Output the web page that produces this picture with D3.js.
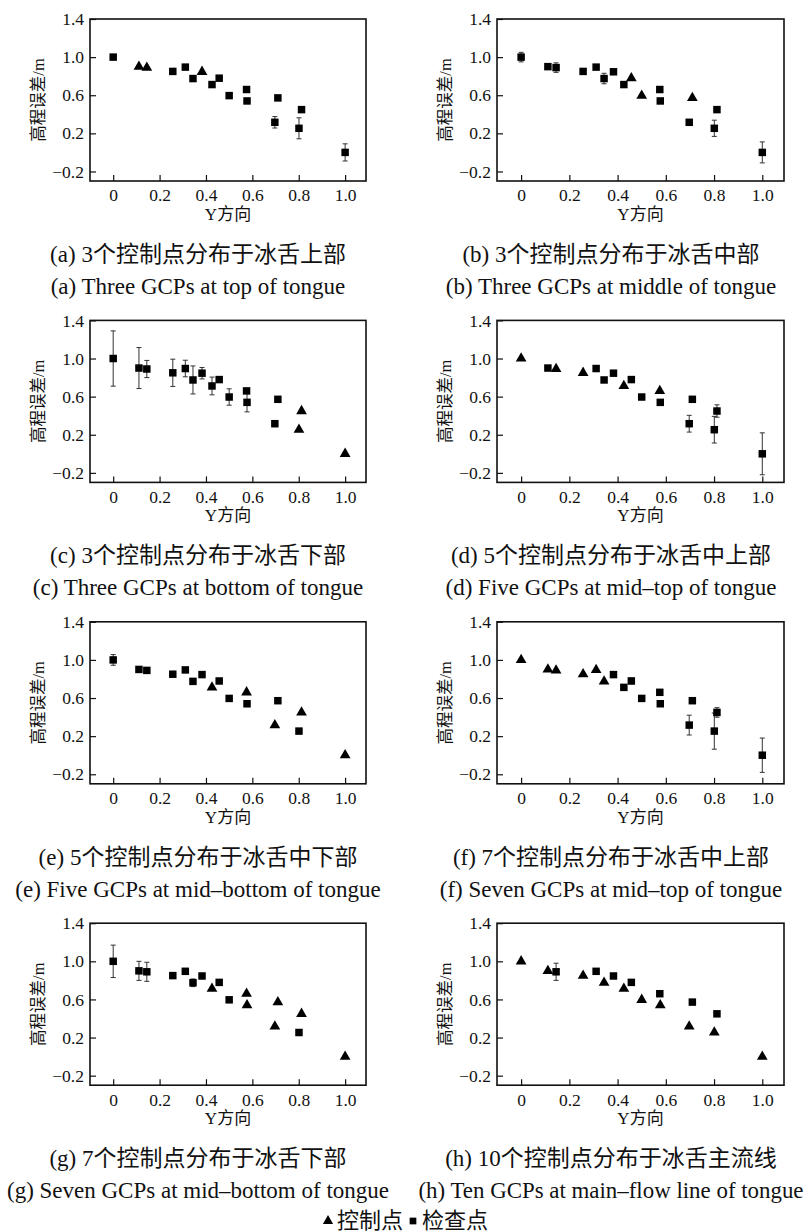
<!doctype html>
<html>

<head>
    <meta charset="utf-8">
    <style>
        body {
            margin: 0;
            background: #fff;
        }

        text {
            font-family: "Liberation Serif", "Noto Sans CJK SC", serif;
            fill: #111;
        }

        .axis path {
            display: none;
        }

        .axis line {
            stroke: #111;
            stroke-width: 1.2px;
        }

        .frame {
            fill: none;
            stroke: #111;
            stroke-width: 1.6px;
        }

        .err {
            stroke: #333;
            stroke-width: 1px;
        }
    </style>
    <script src="https://d3js.org/d3.v7.min.js"></script>
</head>

<body>
    <script>
        // Y方向 (normalised position) of the 17 points, same in every panel
        const yDir = [0, 0.111, 0.145, 0.257, 0.311, 0.344, 0.383, 0.426, 0.457, 0.500, 0.575, 0.577, 0.697, 0.710, 0.801, 0.812, 1.0]
        // 高程误差/m
        const elevErr = [1.0, 0.90, 0.89, 0.85, 0.895, 0.775, 0.846, 0.712, 0.779, 0.596, 0.660, 0.540, 0.316, 0.572, 0.253, 0.449, 0.0]

        const panelIds = ["a", "b", "c", "d", "e", "f", "g", "h"]
        const captionsCn = [
            "(a) 3个控制点分布于冰舌上部",
            "(b) 3个控制点分布于冰舌中部",
            "(c) 3个控制点分布于冰舌下部",
            "(d) 5个控制点分布于冰舌中上部",
            "(e) 5个控制点分布于冰舌中下部",
            "(f) 7个控制点分布于冰舌中上部",
            "(g) 7个控制点分布于冰舌下部",
            "(h) 10个控制点分布于冰舌主流线"
        ]
        const captionsEn = [
            "(a) Three GCPs at top of tongue",
            "(b) Three GCPs at middle of tongue",
            "(c) Three GCPs at bottom of tongue",
            "(d) Five GCPs at mid–top of tongue",
            "(e) Five GCPs at mid–bottom of tongue",
            "(f) Seven GCPs at mid–top of tongue",
            "(g) Seven GCPs at mid–bottom of tongue",
            "(h) Ten GCPs at main–flow line of tongue"
        ]

        // indices of control points (triangles) per panel, the rest are check points
        const ctrlIdx = [
            [1, 2, 6],
            [8, 9, 13],
            [14, 15, 16],
            [0, 2, 3, 7, 10],
            [7, 10, 12, 15, 16],
            [0, 1, 2, 3, 4, 5],
            [7, 10, 11, 12, 13, 15, 16],
            [0, 1, 3, 5, 7, 9, 11, 12, 14, 16]
        ]

        // half length of error bars on check points, per panel
        const errBars = [
            [0, 0, 0, 0, 0, 0, 0, 0, 0, 0, 0, 0, 0.06, 0, 0.11, 0, 0.09],
            [0.05, 0.02, 0.05, 0, 0, 0.055, 0, 0, 0, 0, 0, 0, 0, 0, 0.085, 0, 0.11],
            [0.29, 0.215, 0.09, 0.143, 0.087, 0.147, 0.06, 0.093, 0, 0.086, 0, 0.1, 0.03, 0, 0, 0, 0],
            [0, 0, 0, 0, 0, 0, 0, 0, 0, 0, 0, 0, 0.088, 0, 0.14, 0.065, 0.22],
            [0.056, 0, 0.03, 0, 0, 0.03, 0, 0, 0, 0, 0, 0.03, 0, 0, 0, 0, 0],
            [0, 0, 0, 0, 0, 0, 0, 0, 0.03, 0.03, 0, 0, 0.104, 0, 0.19, 0.05, 0.18],
            [0.17, 0.1, 0.1, 0, 0.03, 0.04, 0, 0, 0, 0, 0, 0, 0, 0, 0, 0, 0],
            [0, 0, 0.09, 0, 0, 0, 0, 0, 0, 0, 0, 0, 0, 0, 0, 0, 0]
        ]

        const xTicks = [0, 0.2, 0.4, 0.6, 0.8, 1.0]
        const yTicks = [-0.2, 0.2, 0.6, 1.0, 1.4]

        const svg = d3.select("body").append("svg")
            .attr("width", 809)
            .attr("height", 1232)

        const colLeft = [90, 497]
        const colRight = [366, 784]
        const capX = [198, 611]
        const plotH = 162
        const capMax = 385

        const fmt = d => d === 0 ? "0" : (d < 0 ? "−" + Math.abs(d).toFixed(1) : d.toFixed(1))

        const fitText = (sel) => {
            // squeeze captions that are wider than the column
            const len = sel.node().getComputedTextLength()
            if (len > capMax) sel.attr("textLength", capMax).attr("lengthAdjust", "spacingAndGlyphs")
        }

        panelIds.forEach((id, p) => {
            const col = p % 2
            const row = Math.floor(p / 2)
            const top = 19 + row * 301.4
            const left = colLeft[col]
            const w = colRight[col] - left

            const x = d3.scaleLinear().domain([-0.1, 1.09]).range([0, w])
            const y = d3.scaleLinear().domain([-0.3, 1.4]).range([plotH, 0])

            const g = svg.append("g").attr("transform", `translate(${left},${top})`)

            g.append("g").attr("class", "axis")
                .attr("transform", `translate(0,${plotH})`)
                .call(d3.axisBottom(x).tickValues(xTicks).tickFormat(fmt)
                    .tickSizeInner(-6).tickSizeOuter(0).tickPadding(8))

            g.append("g").attr("class", "axis")
                .call(d3.axisLeft(y).tickValues(yTicks).tickFormat(fmt)
                    .tickSizeInner(-6).tickSizeOuter(0).tickPadding(6))

            g.selectAll(".axis text")
                .style("font-family", "'Liberation Serif', serif")
                .style("font-size", "17.5px")
                .attr("fill", "#111")

            g.append("rect").attr("class", "frame")
                .attr("width", w).attr("height", plotH)

            // axis titles
            g.append("text")
                .attr("x", w / 2).attr("y", plotH + 39)
                .attr("text-anchor", "middle")
                .style("font-size", "17px")
                .text("Y方向")

            g.append("text")
                .attr("transform", `translate(-46,${plotH / 2}) rotate(-90)`)
                .attr("text-anchor", "middle")
                .style("font-size", "16.5px")
                .text("高程误差/m")

            const pts = yDir.map((v, i) => ({
                x: v,
                y: elevErr[i],
                err: errBars[p][i],
                ctrl: ctrlIdx[p].includes(i)
            }))

            // error bars
            const eb = g.selectAll(".eb")
                .data(pts.filter(d => !d.ctrl && d.err > 0))
                .enter().append("g").attr("class", "eb")
            eb.append("line").attr("class", "err")
                .attr("x1", d => x(d.x)).attr("x2", d => x(d.x))
                .attr("y1", d => y(d.y + d.err)).attr("y2", d => y(d.y - d.err))
            eb.append("line").attr("class", "err")
                .attr("x1", d => x(d.x) - 2.5).attr("x2", d => x(d.x) + 2.5)
                .attr("y1", d => y(d.y + d.err)).attr("y2", d => y(d.y + d.err))
            eb.append("line").attr("class", "err")
                .attr("x1", d => x(d.x) - 2.5).attr("x2", d => x(d.x) + 2.5)
                .attr("y1", d => y(d.y - d.err)).attr("y2", d => y(d.y - d.err))

            // markers
            g.selectAll(".pt")
                .data(pts)
                .enter().append("path").attr("class", "pt")
                .attr("transform", d => `translate(${x(d.x)},${y(d.y)})`)
                .attr("d", d => d.ctrl
                    ? d3.symbol(d3.symbolTriangle, 50)()
                    : d3.symbol(d3.symbolSquare, 56)())
                .attr("fill", "#000")

            // captions
            svg.append("text")
                .attr("x", capX[col]).attr("y", top + 243)
                .attr("text-anchor", "middle")
                .style("font-size", "23px")
                .text(captionsCn[p])
                .call(fitText)
            svg.append("text")
                .attr("x", capX[col]).attr("y", top + 275)
                .attr("text-anchor", "middle")
                .style("font-size", "23px")
                .text(captionsEn[p])
                .call(fitText)
        })

        // legend
        const legend = svg.append("g").attr("transform", "translate(0,1220)")
        legend.append("path")
            .attr("transform", "translate(328,1)")
            .attr("d", d3.symbol(d3.symbolTriangle, 45)())
        legend.append("text").attr("x", 337).attr("y", 8)
            .style("font-size", "22px").text("控制点")
        legend.append("path")
            .attr("transform", "translate(413,1)")
            .attr("d", d3.symbol(d3.symbolSquare, 45)())
        legend.append("text").attr("x", 422).attr("y", 8)
            .style("font-size", "22px").text("检查点")
    </script>
</body>

</html>
